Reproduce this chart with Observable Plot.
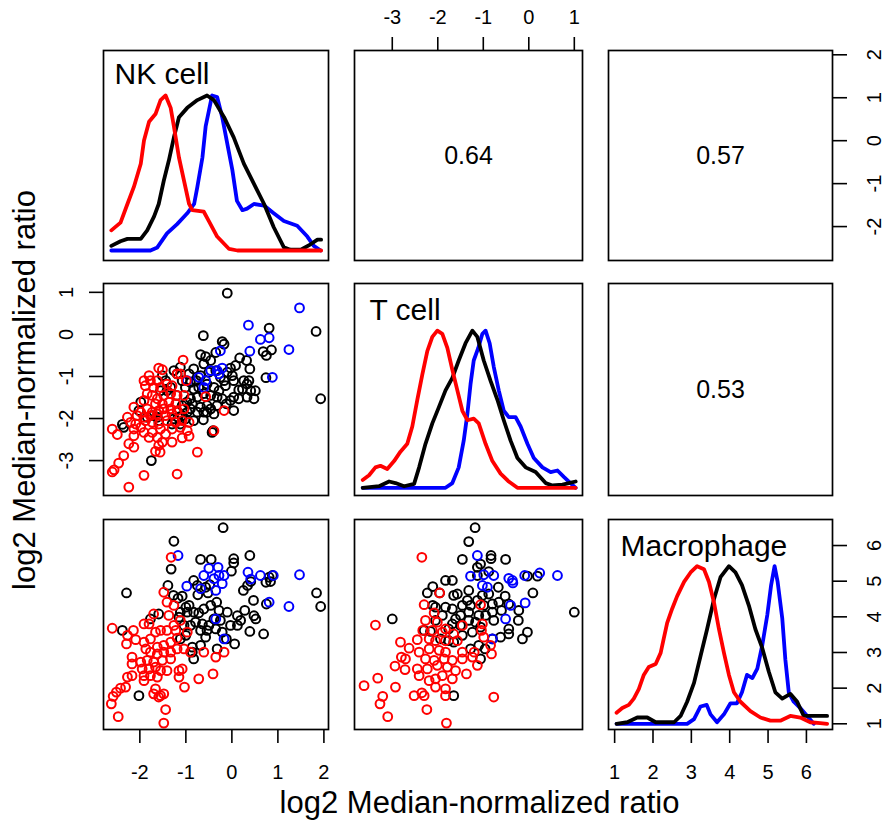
<!DOCTYPE html>
<html><head><meta charset="utf-8">
<script src="https://cdn.jsdelivr.net/npm/d3@7"></script>
<script src="https://cdn.jsdelivr.net/npm/@observablehq/plot@0.6"></script>
<style>
body{margin:0;background:#fff;}
#chart{position:relative;width:892px;height:825px;font-family:"Liberation Sans",Arial,sans-serif;overflow:hidden;}
#chart svg{position:absolute;}
#chart svg g[aria-label$="tick label"], #chart svg g[aria-label$="tick label"] text{font-size:20px !important;}
.title{position:absolute;font-size:31px;line-height:31px;white-space:nowrap;color:#000;transform:translate(-50%,-50%);}
</style></head><body><div id="chart"></div>
<script>
// ---------- data ----------
const variables = ["NK cell", "T cell", "Macrophage"];
const axisTitle = "log2 Median-normalized ratio";
const correlations = {"NK-T": "0.64", "NK-Mac": "0.57", "T-Mac": "0.53"};
const nkTicks = [-2, -1, 0, 1, 2];
const tTicks = [-3, -2, -1, 0, 1];
const macTicks = [1, 2, 3, 4, 5, 6];

// density curves (x in variable units, height relative to peak)
const nkDensRed = [[-2.62,0.13],[-2.42,0.18],[-2.27,0.30],[-2.13,0.41],[-1.98,0.56],[-1.91,0.71],[-1.80,0.83],[-1.66,0.88],[-1.55,0.97],[-1.44,1.0],[-1.33,0.92],[-1.26,0.80],[-1.15,0.60],[-1.04,0.45],[-0.93,0.30],[-0.86,0.26],[-0.61,0.25],[-0.50,0.19],[-0.32,0.09],[-0.06,0.01],[0.12,0],[1.94,0]];
const nkDensBlack = [[-2.62,0.03],[-2.42,0.06],[-2.27,0.075],[-1.98,0.075],[-1.84,0.13],[-1.69,0.22],[-1.59,0.30],[-1.48,0.45],[-1.37,0.58],[-1.26,0.73],[-1.15,0.86],[-0.97,0.92],[-0.75,0.97],[-0.54,1.0],[-0.39,0.97],[-0.17,0.86],[0.04,0.73],[0.26,0.56],[0.48,0.43],[0.70,0.30],[0.91,0.15],[1.13,0.02],[1.27,0.005],[1.50,0.005],[1.71,0.04],[1.86,0.07],[1.94,0.07]];
const nkDensBlue = [[-2.62,0],[-1.77,0],[-1.62,0.02],[-1.41,0.11],[-1.19,0.17],[-0.97,0.24],[-0.82,0.30],[-0.75,0.41],[-0.64,0.60],[-0.57,0.80],[-0.50,0.90],[-0.43,1.0],[-0.32,0.99],[-0.21,0.86],[-0.10,0.69],[0.01,0.52],[0.11,0.32],[0.23,0.26],[0.33,0.27],[0.48,0.30],[0.70,0.29],[0.91,0.24],[1.13,0.19],[1.42,0.16],[1.64,0.09],[1.78,0.03],[1.93,0]];

const tDensRed = [[-3.65,0.05],[-3.51,0.08],[-3.37,0.13],[-3.26,0.14],[-3.11,0.12],[-2.96,0.17],[-2.82,0.23],[-2.67,0.28],[-2.56,0.39],[-2.45,0.56],[-2.34,0.72],[-2.23,0.87],[-2.12,0.96],[-2.01,1.0],[-1.90,0.98],[-1.79,0.89],[-1.68,0.75],[-1.57,0.62],[-1.46,0.49],[-1.35,0.43],[-1.21,0.44],[-1.10,0.41],[-0.95,0.28],[-0.80,0.17],[-0.62,0.09],[-0.44,0.04],[-0.25,0],[1.03,0]];
const tDensBlack = [[-3.65,0],[-3.29,0.01],[-3.07,0.04],[-2.93,0.03],[-2.74,0.01],[-2.52,0.025],[-2.41,0.13],[-2.27,0.28],[-2.12,0.41],[-1.98,0.51],[-1.83,0.62],[-1.68,0.70],[-1.54,0.81],[-1.39,0.92],[-1.24,1.0],[-1.13,0.96],[-0.99,0.81],[-0.84,0.68],[-0.69,0.56],[-0.55,0.43],[-0.40,0.30],[-0.25,0.19],[-0.07,0.13],[0.15,0.10],[0.37,0.03],[0.52,0.015],[0.74,0.02],[0.88,0.03],[1.03,0.04]];
const tDensBlue = [[-3.65,0],[-1.83,0],[-1.68,0.03],[-1.54,0.13],[-1.43,0.30],[-1.35,0.47],[-1.28,0.66],[-1.21,0.81],[-1.11,0.89],[-1.02,0.98],[-0.95,1.0],[-0.86,0.92],[-0.77,0.77],[-0.66,0.62],[-0.55,0.49],[-0.44,0.45],[-0.29,0.45],[-0.18,0.39],[-0.03,0.28],[0.11,0.19],[0.30,0.13],[0.48,0.10],[0.63,0.11],[0.77,0.07],[0.88,0.04],[1.03,0]];

const macDensRed = [[1.05,0.07],[1.20,0.10],[1.37,0.12],[1.50,0.16],[1.63,0.22],[1.76,0.31],[1.89,0.36],[2.07,0.38],[2.20,0.45],[2.28,0.54],[2.37,0.64],[2.50,0.73],[2.63,0.81],[2.81,0.90],[2.98,0.96],[3.15,1.0],[3.33,0.98],[3.46,0.90],[3.59,0.77],[3.72,0.60],[3.85,0.45],[3.98,0.31],[4.11,0.20],[4.28,0.14],[4.54,0.08],[4.80,0.04],[5.06,0.02],[5.32,0.02],[5.58,0.05],[5.84,0.04],[6.10,0.01],[6.36,0.005],[6.54,0]];
const macDensBlack = [[1.05,0],[1.33,0.01],[1.59,0.04],[1.85,0.04],[2.07,0.01],[2.55,0.01],[2.72,0.05],[2.89,0.14],[3.07,0.26],[3.24,0.43],[3.41,0.60],[3.59,0.79],[3.76,0.93],[3.98,1.0],[4.15,0.96],[4.32,0.88],[4.50,0.75],[4.67,0.60],[4.85,0.48],[5.02,0.33],[5.19,0.20],[5.37,0.16],[5.58,0.19],[5.76,0.14],[5.93,0.05],[6.10,0.05],[6.54,0.05]];
const macDensBlue = [[1.05,0],[2.89,0],[3.07,0.03],[3.24,0.11],[3.40,0.12],[3.50,0.06],[3.67,0.01],[3.85,0.06],[4.02,0.13],[4.19,0.13],[4.32,0.20],[4.45,0.31],[4.59,0.29],[4.72,0.35],[4.85,0.50],[4.98,0.69],[5.08,0.88],[5.17,1.0],[5.25,0.90],[5.37,0.67],[5.45,0.41],[5.54,0.20],[5.67,0.14],[5.84,0.10],[6.02,0.05],[6.19,0]];

// scatter: NK (x) vs T (y)
const nkTBlack = [[-0.10,0.98],[1.83,0.07],[1.93,-1.53],[0.81,0.15],[-0.62,-0.03],[-0.21,-0.17],[-0.17,-0.23],[0.68,-0.41],[0.86,-0.37],[0.75,-0.50],[-0.68,-0.48],[-0.57,-0.53],[-0.35,-0.43],[-0.46,-0.62],[-0.61,-0.70],[0.17,-0.56],[0.32,-0.62],[0.39,-0.82],[0.08,-0.74],[-0.03,-0.80],[-0.10,-0.90],[0.01,-0.98],[0.04,-1.10],[-0.17,-1.10],[-0.25,-1.02],[-0.35,-0.86],[-0.50,-0.90],[-0.83,-0.82],[-0.93,-0.94],[-0.68,-0.98],[-0.77,-1.10],[-0.90,-1.14],[-1.01,-1.26],[-0.83,-1.30],[-0.72,-1.26],[-0.39,-1.26],[-0.54,-1.18],[-0.14,-1.22],[-0.28,-1.34],[0.26,-1.10],[0.37,-1.10],[0.33,-1.18],[0.23,-1.30],[0.15,-1.32],[0.41,-1.34],[0.51,-1.34],[0.48,-1.53],[0.33,-1.49],[0.15,-1.53],[0.04,-1.49],[-0.03,-1.57],[-0.12,-1.65],[-0.21,-1.53],[-0.32,-1.49],[-0.46,-1.45],[-0.61,-1.41],[-0.75,-1.49],[-0.90,-1.53],[-0.98,-1.61],[-1.08,-1.69],[-0.86,-1.65],[-0.68,-1.73],[-0.54,-1.69],[-0.46,-1.77],[-0.61,-1.85],[-0.75,-1.85],[-0.90,-1.77],[-0.97,-1.85],[-1.08,-1.93],[-1.17,-1.97],[-1.26,-2.01],[-1.01,-2.01],[-0.83,-2.05],[-0.62,-2.03],[-0.54,-1.85],[-0.39,-1.89],[0.04,-1.81],[-0.32,-1.69],[-1.12,-2.13],[-1.30,-2.13],[-1.20,-1.45],[-1.33,-1.26],[-1.44,-1.10],[-1.51,-0.98],[-1.08,-1.10],[-1.19,-0.94],[-1.26,-0.86],[-1.12,-0.78],[-1.41,-1.34],[-1.55,-1.34],[-1.62,-1.97],[-1.73,-1.93],[-1.84,-1.97],[-1.59,-2.05],[-1.98,-1.61],[-2.02,-1.81],[-2.38,-2.14],[-2.35,-2.21],[-0.43,-2.33],[-0.41,-2.29],[-1.75,-3.00],[0.74,-1.03]];
const nkTBlue = [[1.47,0.63],[0.36,0.22],[0.62,-0.12],[0.81,-0.08],[0.39,-0.40],[1.24,-0.36],[-0.25,-0.39],[0.88,-1.02],[-0.21,-0.80],[-0.32,-0.86],[-0.28,-0.94],[-0.46,-0.86],[-0.57,-1.10],[-0.61,-1.26],[-0.97,-1.10],[-0.72,-1.02]];
const nkTRed = [[-1.06,-0.61],[-1.59,-0.80],[-1.51,-0.84],[-1.19,-0.94],[-1.12,-0.94],[-0.99,-1.10],[-1.80,-0.98],[-1.91,-1.10],[-1.88,-1.22],[-1.77,-1.10],[-1.62,-1.10],[-1.70,-1.26],[-1.55,-1.26],[-1.41,-1.18],[-1.30,-1.22],[-1.84,-1.41],[-1.91,-1.57],[-1.73,-1.45],[-1.62,-1.53],[-1.48,-1.45],[-1.33,-1.41],[-1.19,-1.45],[-1.04,-1.45],[-0.57,-1.48],[-1.66,-1.65],[-1.51,-1.65],[-1.37,-1.61],[-1.22,-1.65],[-2.13,-1.73],[-1.98,-1.85],[-1.84,-1.77],[-1.73,-1.85],[-1.59,-1.81],[-1.48,-1.77],[-1.33,-1.77],[-1.19,-1.81],[-1.04,-1.77],[-2.06,-1.93],[-1.91,-1.97],[-1.77,-1.93],[-1.62,-1.89],[-1.44,-1.93],[-1.30,-1.89],[-2.27,-1.97],[-2.20,-2.09],[-2.09,-2.13],[-1.98,-2.21],[-1.88,-2.05],[-1.73,-2.09],[-1.59,-2.13],[-1.41,-2.05],[-1.22,-2.09],[-1.08,-2.05],[-0.93,-2.09],[-0.17,-1.81],[-2.60,-2.25],[-2.49,-2.38],[-2.13,-2.25],[-1.91,-2.33],[-1.73,-2.33],[-1.55,-2.25],[-1.44,-2.37],[-1.30,-2.25],[-1.12,-2.21],[-0.97,-2.29],[-2.13,-2.41],[-1.80,-2.45],[-1.62,-2.45],[-1.51,-2.56],[-1.30,-2.56],[-1.08,-2.46],[-0.93,-2.42],[-2.24,-2.60],[-2.13,-2.68],[-1.59,-2.64],[-1.66,-2.78],[-1.56,-2.80],[-0.75,-2.80],[-0.39,-2.29],[-2.35,-2.88],[-2.46,-3.06],[-2.56,-3.22],[-2.60,-3.27],[-1.91,-3.35],[-1.19,-3.32],[-2.24,-3.63]];

// scatter: NK (x) vs Macrophage (y)
const nkMacBlack = [[-0.19,6.50],[-1.26,6.12],[-1.32,5.34],[-0.68,5.61],[-0.45,5.61],[0.04,5.63],[0.04,5.51],[0.39,5.72],[-0.01,5.28],[-2.29,4.67],[-1.39,4.88],[-0.83,5.02],[-0.75,4.88],[-0.57,4.83],[-0.48,4.90],[-0.52,4.67],[-0.74,4.62],[-1.27,4.60],[-1.17,4.52],[-1.08,4.58],[-0.93,4.32],[-1.00,4.27],[-1.12,4.13],[-1.15,3.99],[-0.97,4.13],[-0.83,4.13],[-0.72,4.11],[-0.61,4.22],[-0.46,4.32],[-0.33,4.41],[-0.28,4.18],[-0.10,4.13],[-0.25,3.90],[-0.39,3.94],[-0.50,3.76],[-0.64,3.80],[-0.79,3.85],[-0.90,3.76],[-1.04,3.76],[-1.12,3.38],[-1.00,3.48],[-0.86,3.15],[-0.83,2.82],[-0.86,3.01],[-0.68,3.20],[-0.57,3.43],[-0.32,3.10],[-0.12,3.38],[0.06,3.24],[0.12,4.03],[0.19,3.90],[0.28,4.18],[0.47,4.46],[0.48,4.03],[0.52,3.94],[0.39,3.59],[0.69,3.52],[0.25,4.74],[0.34,4.88],[0.41,4.99],[0.74,4.97],[0.81,5.11],[0.88,5.16],[0.84,4.99],[0.75,4.36],[1.84,4.67],[1.93,4.29],[-2.38,3.62],[-2.02,1.79],[-1.59,4.08],[-1.77,3.94],[-0.03,3.76],[0.12,3.76],[-0.35,3.66],[-0.21,3.57],[-0.68,3.62],[-0.54,3.62]];
const nkMacBlue = [[-1.17,5.72],[-0.50,5.36],[-0.30,5.39],[-0.17,5.16],[-0.28,5.16],[-0.39,5.07],[-0.21,4.93],[-0.61,5.16],[-0.68,4.79],[-0.35,4.74],[-0.98,4.86],[0.35,5.25],[0.41,5.06],[0.62,5.16],[0.90,5.16],[1.47,5.18],[0.81,4.41],[1.24,4.29],[-0.35,3.94],[-0.17,3.38]];
const nkMacRed = [[-1.32,5.67],[-1.48,4.69],[-1.41,4.41],[-1.26,4.32],[-1.37,4.04],[-1.70,4.08],[-1.80,3.80],[-1.91,3.80],[-2.60,3.68],[-2.14,3.62],[-2.27,3.48],[-2.09,3.36],[-2.29,3.24],[-1.91,3.29],[-1.77,3.38],[-1.66,3.57],[-1.55,3.62],[-1.41,3.62],[-1.22,3.62],[-0.97,3.57],[-1.19,3.40],[-1.33,3.29],[-1.48,3.20],[-1.62,3.15],[-1.87,3.10],[-1.77,3.01],[-1.62,2.96],[-1.48,3.01],[-1.33,3.01],[-1.19,3.10],[-1.04,3.10],[-2.17,2.87],[-2.17,2.68],[-1.98,2.73],[-1.84,2.78],[-1.70,2.73],[-1.51,2.78],[-1.33,2.82],[-1.95,2.54],[-1.80,2.54],[-1.66,2.59],[-1.55,2.49],[-1.41,2.49],[-1.15,2.49],[-1.08,2.54],[-1.91,2.35],[-1.77,2.35],[-1.62,2.31],[-2.17,2.35],[-2.27,2.31],[-1.91,2.21],[-1.15,2.31],[-0.90,3.01],[-0.61,3.01],[-0.35,2.87],[-0.17,3.01],[-0.72,2.26],[-0.41,2.40],[-1.03,2.03],[-2.31,2.03],[-2.42,2.00],[-2.51,1.89],[-2.58,1.77],[-2.62,1.56],[-1.66,1.98],[-1.70,1.84],[-1.55,1.79],[-1.48,1.84],[-1.59,1.75],[-1.44,1.40],[-2.47,1.20],[-1.48,1.02],[-1.12,3.90],[-1.26,3.76]];

// scatter: T (x) vs Macrophage (y)
const tMacBlack = [[-1.18,6.50],[-1.32,6.11],[-1.46,5.61],[-0.83,5.72],[-0.83,5.63],[-0.51,5.61],[-1.13,5.39],[-1.06,5.48],[-0.88,5.27],[-1.13,5.16],[-1.83,5.02],[-1.68,5.02],[-2.11,4.85],[-2.23,4.67],[-1.96,4.67],[-1.65,4.60],[-1.57,4.64],[-1.32,4.74],[-1.02,4.60],[-0.88,4.64],[-0.67,4.83],[-0.52,4.58],[-0.66,4.41],[-0.80,4.36],[-0.99,4.32],[-1.13,4.46],[-1.35,4.46],[-1.28,4.32],[-1.46,4.32],[-1.68,4.22],[-1.83,4.27],[-2.05,4.27],[-2.11,4.32],[-1.90,4.04],[-2.05,3.90],[-1.50,4.04],[-1.32,4.13],[-1.10,4.04],[-0.95,4.04],[-0.80,4.13],[-0.60,4.18],[-0.44,4.36],[-0.22,4.18],[0.09,4.67],[0.19,5.14],[-0.03,5.14],[1.00,4.13],[-3.00,3.94],[-2.30,3.62],[-2.16,3.59],[-1.94,3.38],[-1.76,3.66],[-1.68,3.80],[-1.50,3.76],[-1.32,3.90],[-1.17,3.85],[-1.06,3.71],[-1.24,3.57],[-1.46,3.48],[-1.65,3.29],[-1.76,3.33],[-1.28,3.10],[-1.10,3.20],[-0.96,3.10],[-1.06,2.82],[-0.80,3.38],[-0.62,3.43],[-0.44,3.66],[-0.44,3.52],[-0.14,3.38],[-0.03,3.57],[-0.23,3.90],[-1.65,1.79],[-1.61,3.94],[-0.77,3.90]];
const tMacBlue = [[-1.13,5.72],[-1.28,5.14],[-0.99,5.18],[-0.77,5.16],[-1.02,4.88],[-0.91,4.83],[-0.44,5.08],[-0.36,5.02],[-0.35,4.95],[-0.09,5.16],[0.24,5.23],[0.63,5.16],[-0.08,4.39],[-0.40,4.32],[-0.51,3.94],[-0.80,3.38]];
const tMacRed = [[-2.35,5.67],[-1.96,4.67],[-2.30,4.34],[-1.06,4.34],[-2.08,4.11],[-2.27,3.90],[-2.01,3.85],[-1.46,3.76],[-1.02,3.80],[-3.37,3.77],[-2.33,3.62],[-2.12,3.62],[-1.90,3.57],[-1.83,3.66],[-1.65,3.52],[-1.04,3.62],[-2.82,3.29],[-2.63,3.12],[-2.45,3.36],[-2.19,3.38],[-2.05,3.33],[-1.83,3.33],[-1.57,3.33],[-0.99,3.43],[-0.84,3.20],[-2.41,3.01],[-2.19,3.10],[-1.97,3.06],[-1.83,3.01],[-1.46,3.01],[-1.20,3.01],[-2.80,2.87],[-2.71,2.82],[-2.27,2.82],[-2.08,2.78],[-1.86,2.82],[-1.68,2.78],[-1.46,2.82],[-1.24,2.87],[-0.82,2.96],[-2.94,2.62],[-2.72,2.52],[-2.45,2.54],[-2.23,2.54],[-2.01,2.64],[-1.79,2.59],[-1.61,2.49],[-1.13,2.64],[-2.41,2.35],[-2.19,2.21],[-2.05,2.26],[-1.90,2.35],[-1.68,2.26],[-1.37,2.40],[-3.32,2.28],[-3.62,2.07],[-2.93,2.03],[-2.05,2.03],[-1.83,1.98],[-3.21,1.77],[-2.52,1.79],[-2.35,1.87],[-2.30,1.79],[-1.83,1.79],[-0.77,1.75],[-3.27,1.56],[-2.24,1.40],[-3.10,1.20],[-1.81,1.02]];

// ---------- layout ----------
const chart = document.getElementById("chart");
const M = 60;
const cols = [[103, 328], [354, 582], [608, 832]];
const rows = [[50, 260], [283, 495], [519, 729]];
const nkDomain = [-2.79, 2.10], tDomainX = [-3.83, 1.18], tDomainY = [-3.83, 1.21];
const macDomainX = [0.84, 6.68], macDomainY = [0.84, 6.73];
const RED = "#ff0000", BLUE = "#0000ff", BLACK = "#000000";
const FONT = '"Liberation Sans", Arial, Helvetica, sans-serif';
const TICKFONT = 20;

function panel(col, row, opts) {
  const [l, r] = cols[col], [t, b] = rows[row];
  const p = Plot.plot({
    width: r - l + 2 * M, height: b - t + 2 * M,
    marginLeft: M, marginRight: M, marginTop: M, marginBottom: M,
    x: {domain: opts.x, axis: opts.xAxis ? undefined : null},
    y: {domain: opts.y, axis: opts.yAxis ? undefined : null},
    style: {background: "none", overflow: "visible", fontFamily: FONT, fontSize: TICKFONT + "px", color: "black"},
    marks: [...opts.marks, ...(opts.noFrame ? [] : [Plot.frame({stroke: "black", strokeWidth: 1.7})])]
  });
  p.style.left = (l - M) + "px";
  p.style.top = (t - M) + "px";
  chart.appendChild(p);
}

const axisStyle = {tickSize: 14, fontSize: TICKFONT, strokeWidth: 1.6, tickFormat: d => String(d)};
function dens(data, color) {
  return Plot.line(data, {x: d => d[0], y: d => d[1], stroke: color, strokeWidth: 3.8});
}
function pts(data, color) {
  return Plot.dot(data, {x: d => d[0], y: d => d[1], r: 4.4, stroke: color, strokeWidth: 2, fill: "none"});
}
function label(text, dx, dy) {
  return Plot.text([text], {frameAnchor: "top-left", textAnchor: "start", lineAnchor: "top", dx, dy, fontSize: 30});
}
function corr(text) {
  return Plot.text([text], {frameAnchor: "middle", fontSize: 25});
}

// Row 1
panel(0, 0, {x: nkDomain, y: [-0.0645, 1.29], marks: [
  dens(nkDensBlue, BLUE), dens(nkDensBlack, BLACK), dens(nkDensRed, RED), label(variables[0], 11, 12)]});
panel(1, 0, {x: tDomainX, y: [0, 1], xAxis: true, marks: [
  Plot.axisX(tTicks, {anchor: "top", tickPadding: 13, ...axisStyle}), corr(correlations["NK-T"])]});
panel(2, 0, {x: [0, 1], y: nkDomain, yAxis: true, marks: [
  Plot.axisY(nkTicks, {anchor: "right", tickPadding: 20, tickRotate: -90, textAnchor: "middle", lineAnchor: "top", ...axisStyle}),
  corr(correlations["NK-Mac"])]});

// Row 2
panel(0, 1, {x: nkDomain, y: tDomainY, yAxis: true, marks: [
  Plot.axisY(tTicks, {anchor: "left", tickPadding: 17, tickRotate: -90, textAnchor: "middle", lineAnchor: "bottom", ...axisStyle}),
  pts(nkTBlack, BLACK), pts(nkTBlue, BLUE), pts(nkTRed, RED)]});
panel(1, 1, {x: tDomainX, y: [-0.049, 1.30], marks: [
  dens(tDensBlue, BLUE), dens(tDensBlack, BLACK), dens(tDensRed, RED), label(variables[1], 15, 15)]});
panel(2, 1, {x: [0, 1], y: [0, 1], marks: [corr(correlations["T-Mac"])]});

// Row 3
panel(0, 2, {x: nkDomain, y: macDomainY, xAxis: true, marks: [
  Plot.axisX(nkTicks, {anchor: "bottom", tickPadding: 21, ...axisStyle}),
  pts(nkMacBlack, BLACK), pts(nkMacBlue, BLUE), pts(nkMacRed, RED)]});
panel(1, 2, {x: tDomainX, y: macDomainY, marks: [
  pts(tMacBlack, BLACK), pts(tMacBlue, BLUE), pts(tMacRed, RED)]});
panel(2, 2, {x: macDomainX, y: [-0.036, 1.296], xAxis: true, marks: [
  Plot.axisX(macTicks, {anchor: "bottom", tickPadding: 21, ...axisStyle}),
  dens(macDensBlue, BLUE), dens(macDensBlack, BLACK), dens(macDensRed, RED), label(variables[2], 12, 15)]});
// right-hand Macrophage axis (same panel, its own y scale in variable units)
panel(2, 2, {x: [0, 1], y: macDomainY, yAxis: true, noFrame: true, marks: [
  Plot.axisY(macTicks, {anchor: "right", tickPadding: 20, tickRotate: -90, textAnchor: "middle", lineAnchor: "top", ...axisStyle})]});

// axis titles
const xt = document.createElement("div");
xt.className = "title"; xt.textContent = axisTitle;
xt.style.left = ((cols[0][0] + cols[2][1]) / 2 + 12) + "px"; xt.style.top = "802px";
chart.appendChild(xt);
const yt = document.createElement("div");
yt.className = "title"; yt.textContent = axisTitle;
yt.style.left = "24px"; yt.style.top = ((rows[0][0] + rows[2][1]) / 2) + "px";
yt.style.transform = "translate(-50%,-50%) rotate(-90deg)";
chart.appendChild(yt);
</script></body></html>
